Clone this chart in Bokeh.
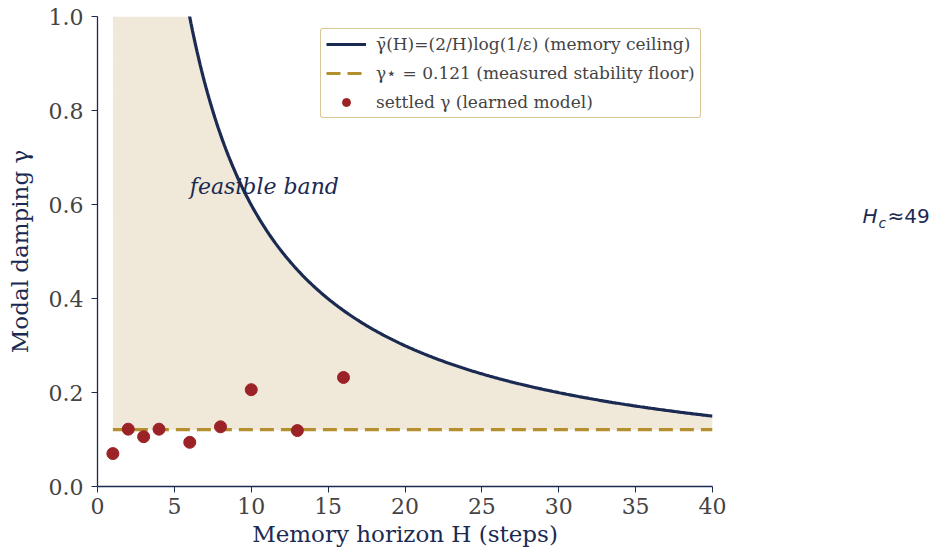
import numpy as np
from bokeh.plotting import figure
from bokeh.layouts import row
from bokeh.models import Label, Legend, LegendItem, Range1d, CustomJSTickFormatter
from bokeh.embed import file_html
from bokeh.resources import INLINE

# ---- data ----
H_points = [1, 2, 3, 4, 6, 8, 10, 13, 16]
gamma_points = [0.070, 0.122, 0.106, 0.122, 0.094, 0.127, 0.206, 0.119, 0.232]
gamma_floor = 0.121
EPS = 0.05                     # tolerance epsilon in ceiling formula
H_c = 49
x_ticks = [0, 5, 10, 15, 20, 25, 30, 35, 40]
y_ticks = [0.0, 0.2, 0.4, 0.6, 0.8, 1.0]

NAVY = "#1b2a52"
GOLD = "#b38f2e"
RED = "#9b2226"
BAND = "#f0e8d8"
TICK_TXT = "#444444"
SERIF = "DejaVu Serif"

H_curve = np.linspace(1, 40, 400)
ceiling = 2.0 / H_curve * np.log(1.0 / EPS)
band_top = np.minimum(ceiling, 1.0)

MAIN_W = 740
p = figure(width=MAIN_W, height=559, output_backend="svg", toolbar_location=None,
           x_range=Range1d(0, 40), y_range=Range1d(0, 1.0),
           min_border_left=97, min_border_right=MAIN_W - 712, min_border_top=16, min_border_bottom=73)
p.outline_line_color = None
p.xgrid.grid_line_color = None
p.ygrid.grid_line_color = None

# band
p.varea(x=H_curve, y1=np.full_like(H_curve, gamma_floor), y2=band_top, fill_color=BAND, fill_alpha=1.0)

ceil_r = p.line(H_curve, ceiling, line_color=NAVY, line_width=3.2)
floor_r = p.line([1, 40], [gamma_floor, gamma_floor], line_color=GOLD, line_width=3.2, line_dash="14 7")
pts_r = p.scatter(H_points, gamma_points, size=12, fill_color=RED, line_color=RED)

for ax in (p.xaxis[0], p.yaxis[0]):
    ax.axis_line_color = NAVY
    ax.axis_line_width = 1.3
    ax.major_tick_line_color = NAVY
    ax.major_tick_out = 6
    ax.major_tick_in = 0
    ax.minor_tick_line_color = None
    ax.major_label_text_font = SERIF
    ax.major_label_text_font_size = "22px"
    ax.major_label_text_color = TICK_TXT
    ax.axis_label_text_font = SERIF
    ax.axis_label_text_font_size = "23px"
    ax.axis_label_text_color = NAVY
    ax.axis_label_text_font_style = "normal"

p.xaxis.ticker = x_ticks
p.yaxis.ticker = y_ticks
p.yaxis.formatter = CustomJSTickFormatter(code="return tick.toFixed(1);")
p.xaxis.axis_label = "Memory horizon H (steps)"
p.yaxis.axis_label = "Modal damping γ"
p.xaxis.major_label_standoff = 5
p.yaxis.major_label_standoff = 8
p.xaxis.axis_label_standoff = 4
p.yaxis.axis_label_standoff = 13

p.add_layout(Label(x=6, y=0.638, text="feasible band", text_font=SERIF, text_font_style="italic",
                   text_font_size="22px", text_color=NAVY, text_baseline="middle", text_align="left"))

legend = Legend(items=[
    LegendItem(label="γ̄(H)=(2/H)log(1/ε) (memory ceiling)", renderers=[ceil_r]),
    LegendItem(label="γ⋆ = 0.121 (measured stability floor)", renderers=[floor_r]),
    LegendItem(label="settled γ (learned model)", renderers=[pts_r]),
], location=(223, 368))
legend.border_line_color = GOLD
legend.border_line_width = 1.6
legend.border_radius = 3
legend.background_fill_color = "white"
legend.background_fill_alpha = 1.0
legend.label_text_font = SERIF
legend.label_text_font_size = "17px"
legend.label_text_color = TICK_TXT
legend.glyph_width = 40
legend.glyph_height = 20
legend.label_height = 20
legend.spacing = 9
legend.padding = 5
legend.margin = 0
legend.label_standoff = 10
p.add_layout(legend)

# right-hand panel holding the H_c annotation (same vertical frame as the main plot)
SIDE_W = 935 - MAIN_W
q = figure(width=SIDE_W, height=559, output_backend="svg", toolbar_location=None,
           x_range=Range1d(0, SIDE_W), y_range=Range1d(0, 1.0),
           min_border_left=0, min_border_right=0, min_border_top=16, min_border_bottom=73,
           x_axis_location=None, y_axis_location=None)
q.outline_line_color = None
q.xgrid.grid_line_color = None
q.ygrid.grid_line_color = None
lx = 122
ly = 0.549
q.add_layout(Label(x=lx, y=ly, text="H", text_font="DejaVu Sans", text_font_style="italic",
                   text_font_size="20px", text_color=NAVY, text_align="left"))
q.add_layout(Label(x=lx, y=ly, x_offset=16, y_offset=-3, text="c", text_font="DejaVu Sans",
                   text_font_style="italic", text_font_size="14px", text_color=NAVY, text_align="left"))
q.add_layout(Label(x=lx, y=ly, x_offset=25, text="≈" + str(H_c), text_font="DejaVu Sans",
                   text_font_size="20px", text_color=NAVY, text_align="left"))

layout = row(p, q, spacing=0)
open("out.html", "w").write(file_html(layout, INLINE))
